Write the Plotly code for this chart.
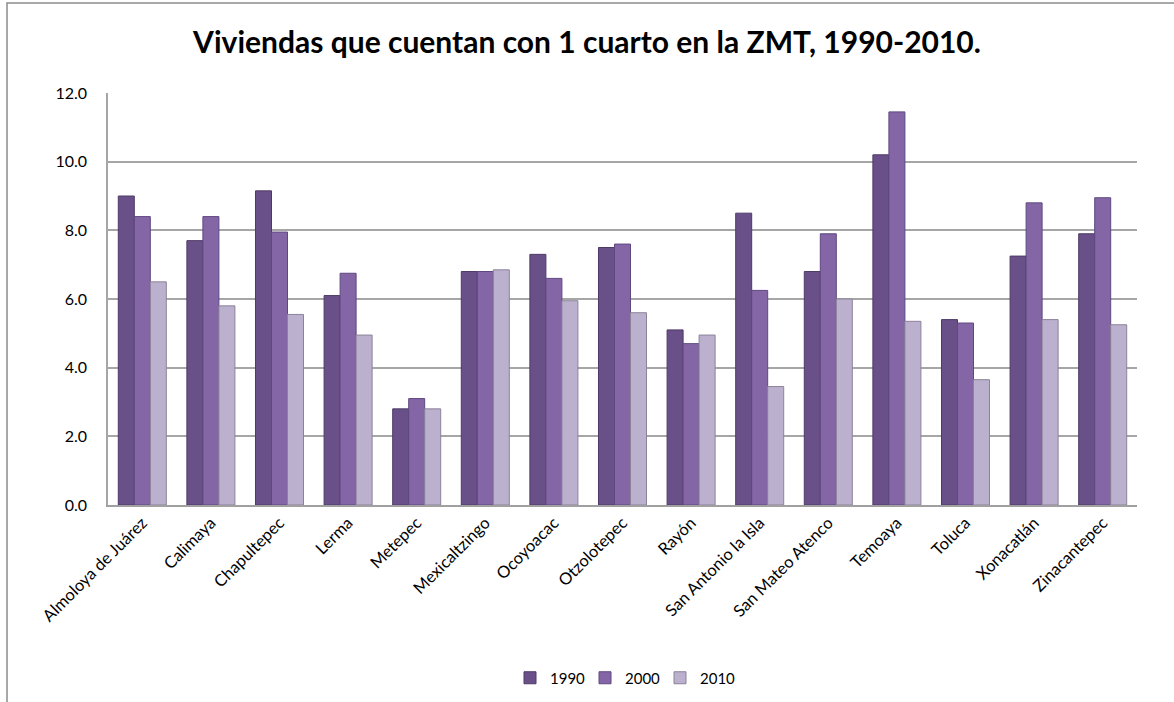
import plotly.graph_objects as go

categories = ["Almoloya de Juárez", "Calimaya", "Chapultepec", "Lerma", "Metepec",
              "Mexicaltzingo", "Ocoyoacac", "Otzolotepec", "Rayón", "San Antonio la Isla",
              "San Mateo Atenco", "Temoaya", "Toluca", "Xonacatlán", "Zinacantepec"]
v1990 = [9.0, 7.7, 9.15, 6.1, 2.8, 6.8, 7.3, 7.5, 5.1, 8.5, 6.8, 10.2, 5.4, 7.25, 7.9]
v2000 = [8.4, 8.4, 7.95, 6.75, 3.1, 6.8, 6.6, 7.6, 4.7, 6.25, 7.9, 11.45, 5.3, 8.8, 8.95]
v2010 = [6.5, 5.8, 5.55, 4.95, 2.8, 6.85, 5.95, 5.6, 4.95, 3.45, 6.0, 5.35, 3.65, 5.4, 5.25]
years = ["1990", "2000", "2010"]
tick_vals = [0, 2, 4, 6, 8, 10, 12]

series = [v1990, v2000, v2010]
fills = ["#6A5088", "#8466A6", "#BBB0CE"]
edges = ["#4E3A66", "#5F4880", "#8C8399"]

W, H = 1174, 702
L, R, T, B = 108, 37, 93, 197
pw, ph = W - L - R, H - T - B

fig = go.Figure()
for name, vals, c, e in zip(years, series, fills, edges):
    fig.add_trace(go.Bar(x=categories, y=vals, name=name,
                         marker=dict(color=c, line=dict(color=e, width=1))))

font_family = "Lato, 'Open Sans', sans-serif"
fig.update_layout(
    width=W, height=H,
    paper_bgcolor="white", plot_bgcolor="white",
    margin=dict(l=L, r=R, t=T, b=B, autoexpand=False),
    barmode="group", bargap=0.3, bargroupgap=0.0,
    title=dict(text="<b>Viviendas que cuentan con 1 cuarto en la ZMT, 1990-2010.</b>",
               x=0.5, xanchor="center", y=1 - 42 / H, yanchor="middle",
               font=dict(family=font_family, size=30, color="black")),
    font=dict(family=font_family, size=16, color="black"),
    showlegend=True,
    legend=dict(orientation="h", x=0.5, xanchor="center", y=-(678 - (H - B)) / ph, yanchor="middle",
                font=dict(size=15), itemwidth=30, entrywidth=30, traceorder="normal"),
    shapes=[dict(type="rect", xref="paper", yref="paper",
                 x0=(7 - L) / pw, x1=1.2, y0=-0.6, y1=1 + (T - 3) / ph,
                 line=dict(color="#8C8C8C", width=1.5), fillcolor="rgba(0,0,0,0)", layer="below")],
)
fig.update_xaxes(showgrid=False, showline=True, linecolor="#A0A0A0", linewidth=1.5,
                 tickangle=-45, ticks="", tickfont=dict(size=16.5), automargin=False)
fig.update_yaxes(range=[0, 12], tickvals=tick_vals, tickformat=".1f",
                 showgrid=True, gridcolor="#A6A6A6", gridwidth=1.5,
                 showline=True, linecolor="#A6A6A6", linewidth=1.5,
                 zeroline=False, ticks="outside", ticklen=16, tickcolor="rgba(0,0,0,0)",
                 tickfont=dict(size=16), automargin=False)

fig.write_html("out.html", config={"displayModeBar": False},
               post_script="document.body.style.margin='0px';")
